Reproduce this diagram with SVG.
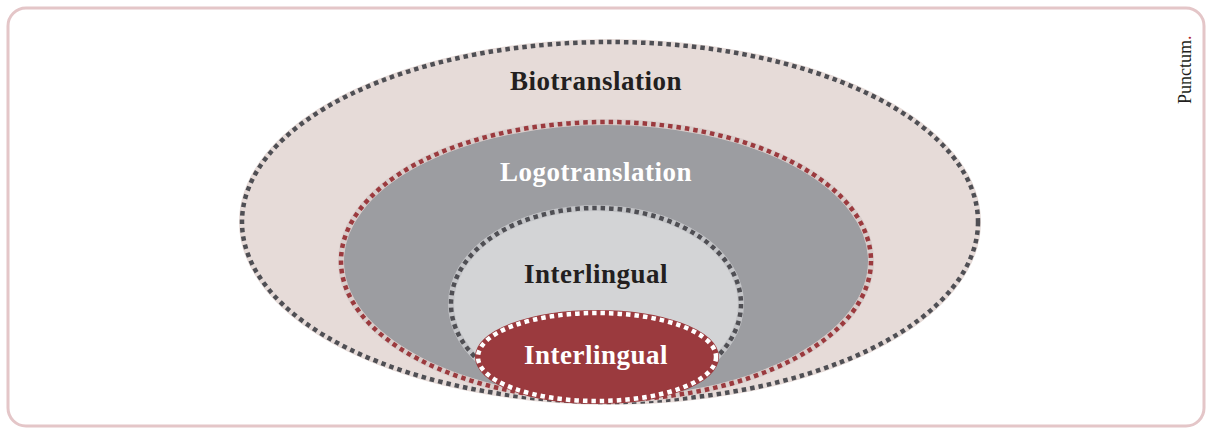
<svg xmlns="http://www.w3.org/2000/svg" width="1211" height="430" viewBox="0 0 1211 430">
  <style>
    .ring { stroke-width: 4.5; stroke-dasharray: 4.5 4; }
    .label { font-family: "Liberation Serif", "DejaVu Serif", serif; font-weight: bold; font-size: 27px; letter-spacing: 0.5px; text-anchor: middle; }
    .dark { fill: #231f20; }
    .light { fill: #ffffff; }
  </style>
  <rect x="8" y="8" width="1196" height="418" rx="18" fill="#ffffff" stroke="#e4c6c8" stroke-width="3"/>

  <g id="biotranslation">
    <ellipse cx="610" cy="222" rx="368" ry="180" fill="#e6dbd8" stroke="#e6dbd8" stroke-width="6"/>
    <ellipse class="ring" cx="610" cy="222" rx="368" ry="180" fill="none" stroke="#4f4f54"/>
    <text class="label dark" x="596" y="90">Biotranslation</text>
  </g>

  <g id="logotranslation">
    <ellipse cx="606" cy="261" rx="265" ry="139" fill="#9c9da1" stroke="#d9cdcb" stroke-width="6"/>
    <ellipse class="ring" cx="606" cy="261" rx="265" ry="139" fill="none" stroke="#9b3a3e"/>
    <text class="label light" x="596" y="181">Logotranslation</text>
  </g>

  <g id="interlingual-outer">
    <ellipse cx="596" cy="304" rx="145" ry="96" fill="#d3d4d6" stroke="#c4c5c8" stroke-width="6"/>
    <ellipse class="ring" cx="596" cy="304" rx="145" ry="96" fill="none" stroke="#4f4f54"/>
    <text class="label dark" x="596" y="283">Interlingual</text>
  </g>

  <g id="interlingual-inner">
    <ellipse cx="597" cy="357" rx="119" ry="44" fill="#9b3a3e" stroke="#9b3a3e" stroke-width="6"/>
    <ellipse class="ring" cx="597" cy="357" rx="119" ry="44" fill="none" stroke="#ffffff"/>
    <text class="label light" x="596" y="364">Interlingual</text>
  </g>

  <g id="connectors"/>

  <text transform="translate(1191 104) rotate(-90)" font-family="Liberation Serif, DejaVu Serif, serif" font-size="18" fill="#231f20">Punctum<tspan fill="#b0262c">.</tspan></text>
</svg>
